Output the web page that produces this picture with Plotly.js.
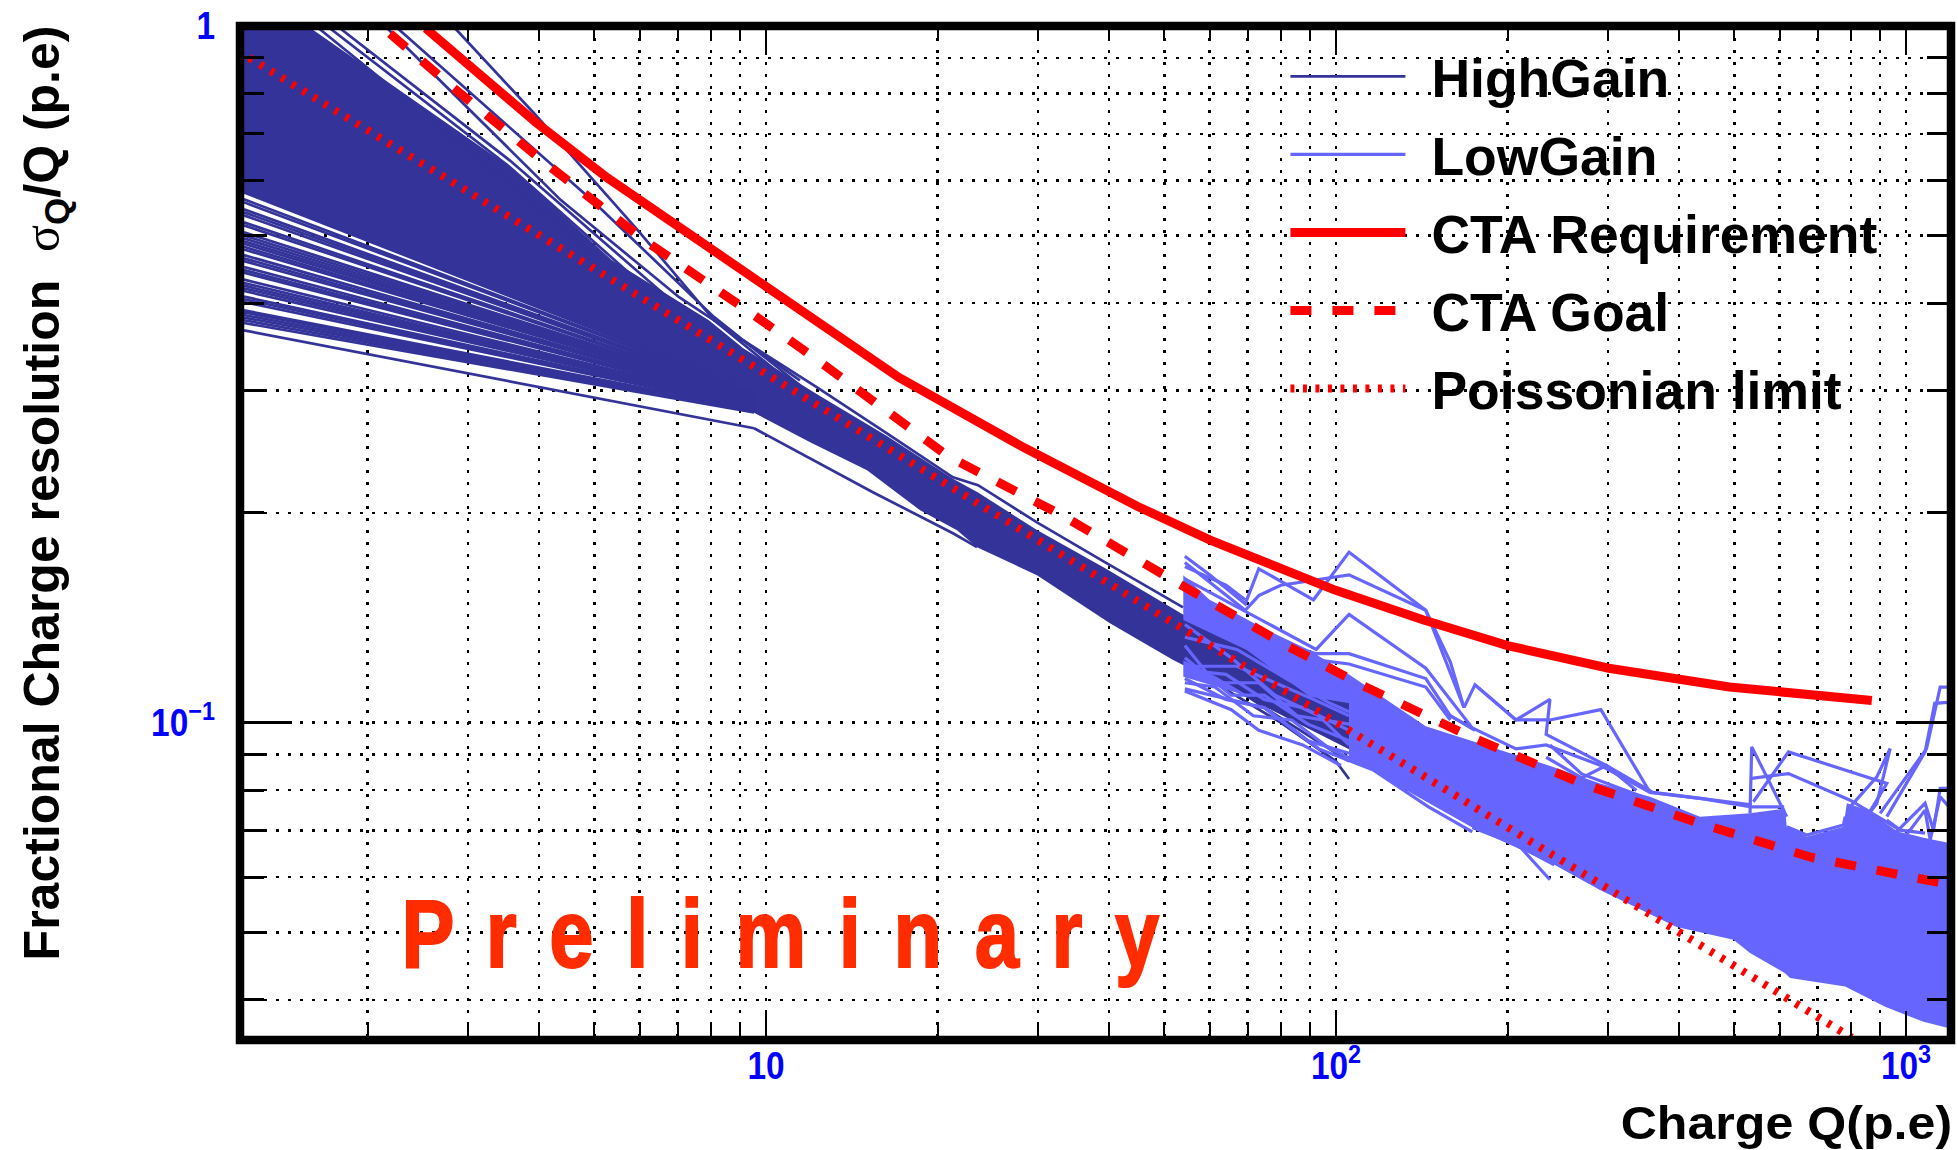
<!DOCTYPE html>
<html><head><meta charset="utf-8">
<script src="https://cdn.plot.ly/plotly-3.0.1.min.js"></script>
<style>
html,body{margin:0;padding:0;background:#fff}
.legendtext{transform:translateX(21px)}
.legend .scrollbox{clip-path:none !important}
g.annotation[data-index="0"] text{transform-box:fill-box;transform-origin:center;transform:scaleX(.82);letter-spacing:6.4px;stroke:#FF2C00;stroke-width:2px}
g.annotation[data-index="1"] text{transform-box:fill-box;transform-origin:right center;transform:scaleX(1.09)}
</style>
</head><body><div id="chart" style="width:1958px;height:1150px"></div>
<script>
// Axis ticks
const xMajorTicks=[10,100,1000];
const xMajorLabels=['10','10<sup>2</sup>','10<sup>3</sup>'];
const xMinorTicks=[2,3,4,5,6,7,8,9,20,30,40,50,60,70,80,90,200,300,400,500,600,700,800,900];
const yMajorTicks=[1,0.1];
const yMajorLabels=['1','10<sup>\u22121</sup>'];
const yMinorTicks=[0.9,0.8,0.7,0.6,0.5,0.4,0.3,0.2,0.09,0.08,0.07,0.06,0.05,0.04];

// Reference curves
const requirementX=[2.53,3.95,5.26,7.04,10,17.1,28.4,44.8,60,99.6,142,200,301,490,871];
const requirementY=[0.992,0.727,0.606,0.514,0.421,0.313,0.248,0.2045,0.183,0.155,0.1405,0.129,0.1197,0.1125,0.1076];
const goalX=[2.19,2.84,4.15,6.13,9.26,12.04,20.9,33,54.3,81.7,111,173,272,439,681,1200];
const goalY=[0.975,0.813,0.631,0.492,0.391,0.336,0.241,0.1986,0.1565,0.1292,0.1132,0.0953,0.0816,0.0715,0.0641,0.0585];
const poissonX=[1.24,10,100,803];
const poissonY=[0.9,0.316,0.1,0.0353];

// HighGain: solid part of the bundle, read as its outline
const highGainBandX=[1.214,1.592,3.555,5.37,7.94,9.11,12.29,16.3,21.28,23.55,29.88,39.64,53.9,105.4,105.4,51.8,40.12,29.88,23.45,21.63,18.63,15.04,11.95,9.49,9.53,1.214];
const highGainBandY=[1.0,0.992,0.627,0.461,0.378,0.345,0.296,0.258,0.224,0.214,0.189,0.166,0.143,0.1067,0.0916,0.123,0.1389,0.1628,0.1786,0.1889,0.2018,0.2303,0.2526,0.2789,0.298,0.577];
// HighGain: separately visible rays of the fan, at x = 1.214 and x = 9.53
const fanStartX=1.214, fanEndX=9.53;
const fanStartY=[0.3657,0.3747,0.3781,0.3814,0.3847,0.3881,0.3907,0.4016,0.4052,0.4088,0.4165,0.4201,0.4239,0.4276,0.4324,0.4425,0.4463,0.4508,0.4598,0.4639,0.4689,0.4778,0.482,0.4868,0.491,0.4956,0.5005,0.5055,0.5174,0.5225,0.5348,0.5401,0.5455,0.5583,0.5639,0.577];
const fanEndY=[0.2646,0.2789,0.2795,0.28,0.2806,0.2812,0.2818,0.2824,0.283,0.2835,0.2841,0.2847,0.2853,0.2859,0.2864,0.287,0.2876,0.2882,0.2888,0.2893,0.2899,0.2905,0.2911,0.2917,0.2922,0.2928,0.2934,0.294,0.2946,0.2951,0.2957,0.2963,0.2969,0.2975,0.298,0.2985];
// HighGain: outlier curves
const hgA=[[2.824,3.95,5.96,8.11,11.47],[1.0,0.744,0.509,0.378,0.3]];
const hgB=[[2.234,4.95,8.11,11.47],[1.0,0.562,0.382,0.305]];
const hgC=[[2.146,4.37,7.04,8.11,11.47],[1.0,0.562,0.408,0.378,0.31]];
const hgD=[[1.768,3.555,6.6,9.0],[1.0,0.641,0.413,0.345]];
const hgE=[[1.697,3.555,6.6],[1.0,0.627,0.4]];
const hgF=[[1.623,3.28,6.6],[1.0,0.627,0.39]];
const hgG=[[9.53,11.95,15.4,21.28,23.45],[0.2646,0.2395,0.2142,0.187,0.1786]];
const hgH=[[57.7,80,100,105.4],[0.1175,0.1,0.088,0.083]];
const hgI=[[54.3,75,105.4],[0.125,0.105,0.088]];
const hgJ=[[9.11,12.29,16.3,21.28,23.55,29.88,39.64,53.9],[0.354,0.3029,0.2602,0.225,0.2192,0.1939,0.1693,0.1464]];
const highGainOutliers=[hgA,hgB,hgC,hgD,hgE,hgF,hgG,hgH,hgI,hgJ];

// LowGain: solid part of the bundle, read as its outline
const lowGainBandX=[53.96,60,65.2,74.8,89.3,105.4,143.7,236.3,290.5,355.5,435,532.5,613.5,617.6,669.6,776.6,787.3,853.6,976.6,1203,1195,1073,919,782,626,613.5,532.5,498,396,290.5,241.5,173.4,133,105.4,105.4,90,69.7,53.96];
const lowGainBandY=[0.1628,0.1501,0.145,0.1364,0.1274,0.1173,0.0988,0.0868,0.0818,0.0783,0.0733,0.0741,0.0753,0.0709,0.0686,0.0709,0.0766,0.0749,0.0694,0.0671,0.0364,0.0372,0.0391,0.0418,0.043,0.0437,0.0467,0.0488,0.0509,0.0575,0.0625,0.0707,0.0799,0.0892,0.1066,0.1089,0.1271,0.1404];
const lowGainBlockX=[53.96,61.7,70.7,61.7,53.96];
const lowGainBlockY=[0.1229,0.1164,0.1089,0.1125,0.1164];
// LowGain: single visible curves
const lgS1=[[54.3,64.1,74.8,89.3,105.4],[0.1157,0.108,0.1051,0.0942,0.0904]];
const lgS2=[[54.3,65.5,73.2,87.4,102],[0.111,0.1044,0.0975,0.0929,0.0868]];
const lgS3=[[54.3,61.3,71.6,83.6,97.6,109],[0.1141,0.1125,0.1023,0.1009,0.0917,0.088]];
const lgS4=[[54.3,64.1,74.8,87.4,105.4],[0.119,0.1173,0.108,0.1051,0.0975]];
const lgS5=[[54.3,61.3,73.2,85.4,105.4],[0.1291,0.1141,0.1141,0.1023,0.0995]];
const lgS6=[[54.3,65.5,78.2,93.3,105.4],[0.1383,0.1239,0.1095,0.1023,0.0929]];
const lgS7=[[54.3,65.5,74.8,89.3,105.4],[0.1239,0.1095,0.1095,0.0995,0.0942]];
const lgS8=[[54.3,67,78.2,91.3,105.4],[0.1205,0.1205,0.1141,0.108,0.1023]];
const lgS9=[[54.3,74.8,93.3,116,145.3,173.4],[0.1118,0.1051,0.0917,0.0856,0.0757,0.0697]];
const lgS10=[[54.3,67,81.8,97.6,105.4],[0.1327,0.1274,0.1157,0.1066,0.1037]];
const lgL1=[[54.3,60,69.3,73.2,91.3,105.4,143.7,167.7],[0.1733,0.163,0.1481,0.1663,0.1501,0.1757,0.145,0.1051]];
const lgL2=[[54.3,69.3,73.2,80,105.4,143.7,158.7,167.7],[0.1698,0.145,0.1522,0.1575,0.163,0.145,0.1222,0.1051]];
const lgL3=[[54.3,64.1,69.3],[0.1675,0.1575,0.1501]];
const lgL4=[[54.3,92.3,105.4,143.7,173.4],[0.1608,0.1274,0.143,0.1197,0.0983]];
const lgL5=[[74.8,92.3,105.4,143.7,158.7,175.3],[0.1327,0.1256,0.1256,0.1157,0.1023,0.0975]];
const lgL6=[[92.3,105.4,143.7,158.7],[0.1231,0.1214,0.1125,0.1009]];
const lgM1=[[167.7,175.3,206.9,237.3,233.7,298,359.6,535.5],[0.1051,0.1133,0.1009,0.108,0.0962,0.0868,0.0794,0.0762]];
const lgM3=[[158.7,173.4,206.9,233.7,291.5,355.6,438.8,535.5,611.3],[0.1023,0.0983,0.0917,0.0929,0.0868,0.0794,0.0778,0.0757,0.0757]];
const lgM4=[[175.3,206.9,237.3,291.5,355.6],[0.1133,0.1009,0.1009,0.1044,0.0794]];
const lgM5=[[233.7,269.8,298,336.5],[0.0892,0.0833,0.0868,0.0799]];
const lgM6=[[237.3,269.8,351.8],[0.0929,0.0844,0.0778]];
const lgE1=[[173.4,202.4,237.3],[0.0726,0.0687,0.0595]];
const lgE2=[[173.4,206.9,241.5],[0.0707,0.0669,0.0625]];
const lgR1=[[532.5,536.2,569.8,617.6],[0.0741,0.0923,0.0836,0.0733]];
const lgR2=[[539.8,622,925.3,853.6],[0.077,0.0908,0.0818,0.0733]];
const lgR3=[[536.2,622,798,976.6],[0.0832,0.0845,0.0774,0.0701]];
const lgR5=[[798,888.8,938,888.8,853.6],[0.0757,0.0836,0.0918,0.0766,0.0733]];
const lgR6=[[900.6,1086,1148,1200],[0.0741,0.0917,0.1125,0.1125]];
const lgR7=[[925.3,1080,1123,1200],[0.0733,0.0908,0.1066,0.107]];
const lgR8=[[957,1080,1117.5,1148,1195],[0.0694,0.0766,0.0701,0.0805,0.0805]];
const lgR9=[[976.6,1080,1102.6,1148,1203],[0.0671,0.0749,0.0678,0.0783,0.0749]];
const lgR10=[[617.6,669.6,776.6,782],[0.0709,0.069,0.0713,0.0733]];
const lgR11=[[688,787.3],[0.0682,0.0694]];
const lgR12=[[925,976.6,1080],[0.0725,0.0701,0.0694]];
const lgR13=[[820,913,1031,1133],[0.0749,0.0701,0.0686,0.0671]];
const lowGainCurves=[lgS1,lgS2,lgS3,lgS4,lgS5,lgS6,lgS7,lgS8,lgS9,lgS10,lgL1,lgL2,lgL3,lgL4,lgL5,lgL6,lgM1,lgM3,lgM4,lgM5,lgM6,lgE1,lgE2,lgR1,lgR2,lgR3,lgR5,lgR6,lgR7,lgR8,lgR9,lgR10,lgR11,lgR12,lgR13];

const HG='#333399', LG='#6666FF', RED='#FF0000';
function joined(curves){
  const x=[],y=[];
  curves.forEach(c=>{x.push(...c[0],null);y.push(...c[1],null);});
  return {x,y};
}
const fanCurves=fanStartY.map((v,i)=>[[fanStartX,fanEndX],[v,fanEndY[i]]]);
const hgLines=joined(fanCurves.concat(highGainOutliers));
const lgLines=joined(lowGainCurves);

const traces=[
 {name:'HighGain band',x:highGainBandX,y:highGainBandY,mode:'lines',fill:'toself',fillcolor:HG,line:{width:0,color:HG},showlegend:false,legendgroup:'hg',hoverinfo:'skip'},
 {name:'HighGain',x:hgLines.x,y:hgLines.y,mode:'lines',line:{color:HG,width:2.7},legendgroup:'hg',connectgaps:false},
 {name:'LowGain band',x:lowGainBandX,y:lowGainBandY,mode:'lines',fill:'toself',fillcolor:LG,line:{width:0,color:LG},showlegend:false,legendgroup:'lg',hoverinfo:'skip'},
 {name:'LowGain block',x:lowGainBlockX,y:lowGainBlockY,mode:'lines',fill:'toself',fillcolor:LG,line:{width:0,color:LG},showlegend:false,legendgroup:'lg',hoverinfo:'skip'},
 {name:'LowGain',x:lgLines.x,y:lgLines.y,mode:'lines',line:{color:LG,width:3.2},legendgroup:'lg',connectgaps:false},
 {name:'CTA Requirement',x:requirementX,y:requirementY,mode:'lines',line:{color:RED,width:9},legendgroup:'req'},
 {name:'CTA Goal',x:goalX,y:goalY,mode:'lines',line:{color:RED,width:9,dash:'21px,21px'},legendgroup:'goal'},
 {name:'Poissonian limit',x:poissonX,y:poissonY,mode:'lines',line:{color:RED,width:8,dash:'4px,8.5px'},legendgroup:'poi'}
];

const tickFont={family:'"Liberation Sans",Arial,sans-serif',size:38,color:'#0000FF',weight:700};
const layout={
 width:1958,height:1150,paper_bgcolor:'#fff',plot_bgcolor:'#fff',
 margin:{l:240,r:7,t:25.5,b:110,pad:0},
 showlegend:true,
 legend:{x:0.611,y:0.991,xanchor:'left',yanchor:'top',bgcolor:'rgba(0,0,0,0)',itemwidth:115,tracegroupgap:5.5,
   font:{family:'"Liberation Sans",Arial,sans-serif',size:53.5,color:'#000',weight:700},traceorder:'grouped'},
 xaxis:{type:'log',range:[0.0772,3.0789],showline:false,zeroline:false,
   tickmode:'array',tickvals:xMajorTicks,ticktext:xMajorLabels,tickfont:tickFont,ticks:'inside',ticklen:29,tickwidth:2,tickcolor:'#000',mirror:'allticks',
   showgrid:true,gridcolor:'#000',gridwidth:2.5,griddash:'3px,9px',
   minor:{tickmode:'array',tickvals:xMinorTicks,ticks:'inside',ticklen:15,tickwidth:2,tickcolor:'#000',showgrid:true,gridcolor:'#000',gridwidth:2.5,griddash:'3px,9px'}},
 yaxis:{type:'log',range:[-1.4555,0],showline:false,zeroline:false,
   tickmode:'array',tickvals:yMajorTicks,ticktext:yMajorLabels,tickfont:tickFont,ticks:'inside',ticklen:52,tickwidth:3,tickcolor:'#000',mirror:'allticks',ticklabelstandoff:24,
   showgrid:true,gridcolor:'#000',gridwidth:2.5,griddash:'3px,9px',
   minor:{tickmode:'array',tickvals:yMinorTicks,ticks:'inside',ticklen:24,tickwidth:3,tickcolor:'#000',showgrid:true,gridcolor:'#000',gridwidth:2.5,griddash:'3px,9px'}},
 shapes:[
  {type:'rect',xref:'paper',yref:'paper',x0:0.083,x1:0.5599,y0:0.0365,y1:0.1755,fillcolor:'#fff',line:{width:0},layer:'between'},
  {type:'rect',xref:'paper',yref:'paper',x0:0.5985,x1:0.9871,y0:0.5964,y1:0.9877,fillcolor:'#fff',line:{width:0},layer:'between'},
  {type:'rect',xref:'paper',yref:'paper',x0:0,x1:1,y0:0,y1:1,fillcolor:'rgba(0,0,0,0)',line:{color:'#000',width:8.5},layer:'above'}
 ],
 annotations:[
  {text:'P r e l i m i n a r y',xref:'paper',yref:'paper',x:0.3174,y:0.1046,xanchor:'center',yanchor:'middle',showarrow:false,
   font:{family:'"Liberation Sans",Arial,sans-serif',size:97,color:'#FF2C00',weight:700}},
  {text:'Charge Q(p.e)',xref:'paper',yref:'paper',x:1.002,y:-0.0818,xanchor:'right',yanchor:'middle',showarrow:false,
   font:{family:'"Liberation Sans",Arial,sans-serif',size:46,color:'#000',weight:700}},
  {text:'Fractional Charge resolution  <span style="font-family:\'Liberation Serif\';font-weight:400">\u03C3</span><sub>Q</sub>/Q (p.e)',xref:'paper',yref:'paper',x:-0.114,y:0.54,xanchor:'center',yanchor:'middle',textangle:-90,showarrow:false,
   font:{family:'"Liberation Sans",Arial,sans-serif',size:50,color:'#000',weight:700}}
 ]
};
Plotly.newPlot('chart',traces,layout,{displayModeBar:false,staticPlot:true}).then(gd=>{
  // the reference's tick digits are condensed: narrow each label about its own anchor
  gd.querySelectorAll('.xtick text, .ytick text').forEach(t=>{
    const x=parseFloat(t.getAttribute('x'))||0;
    const cur=t.getAttribute('transform')||'';
    t.setAttribute('transform',cur+' translate('+x+',0) scale(0.88,1) translate('+(-x)+',0)');
  });
});
</script></body></html>
